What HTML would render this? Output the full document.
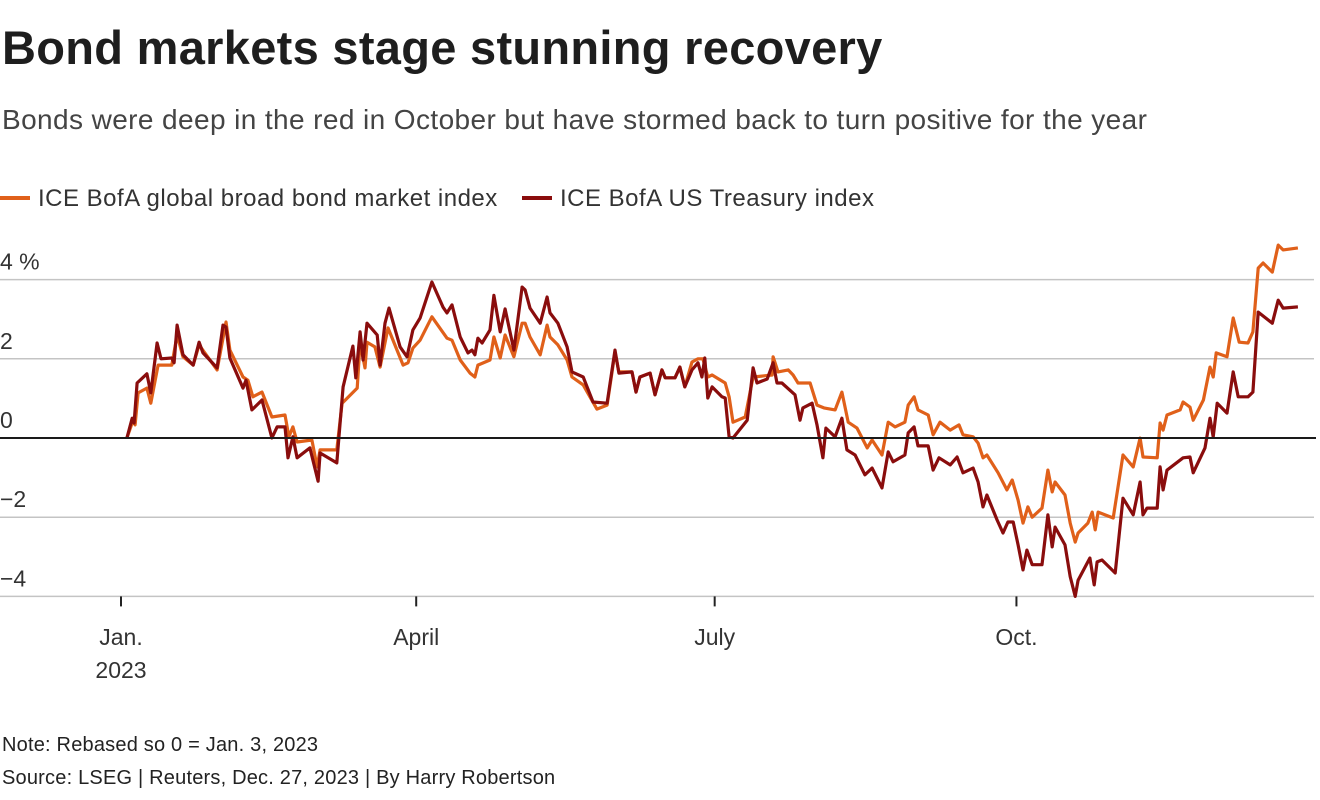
<!DOCTYPE html>
<html><head><meta charset="utf-8">
<style>
body{margin:0;background:#fff;font-family:"Liberation Sans",sans-serif;color:#222;}
.wrap{position:relative;width:1320px;height:800px;overflow:hidden;}
h1{position:absolute;left:2px;top:20px;margin:0;font-size:47px;font-weight:bold;color:#1e1e1e;letter-spacing:0.3px}
.sub{position:absolute;left:2px;top:104px;font-size:28px;color:#444;letter-spacing:0.4px}
.leg{position:absolute;top:185px;font-size:24px;color:#333;letter-spacing:0.5px}
.sw{display:inline-block;width:30px;height:4px;vertical-align:middle;margin-right:8px;position:relative;top:-2px}
.note{position:absolute;left:2px;font-size:20px;color:#222;letter-spacing:0.2px}
</style></head><body>
<div class="wrap">
<h1>Bond markets stage stunning recovery</h1>
<div class="sub">Bonds were deep in the red in October but have stormed back to turn positive for the year</div>
<div class="leg" style="left:0px"><span class="sw" style="background:#e0601a"></span>ICE BofA global broad bond market index</div>
<div class="leg" style="left:522px"><span class="sw" style="background:#8a0d0d"></span>ICE BofA US Treasury index</div>
<svg id="chart" width="1320" height="800" style="position:absolute;left:0;top:0"></svg>
<div class="note" style="top:734px">Note: Rebased so 0 = Jan. 3, 2023</div>
<div class="note" style="top:767px">Source: LSEG | Reuters, Dec. 27, 2023 | By Harry Robertson</div>
</div>
<script>
const yTicks=[4,2,0,-2,-4];
const yTickLabels=["4 %","2","0","\u22122","\u22124"];
const monthDays=[0,90,181,273];
const monthLabels=["Jan.","April","July","Oct."];
const treasuryDays=[1.8,3.4,4.0,4.9,7.9,9.1,11.0,12.2,15.5,16.2,17.1,18.9,22.0,23.8,25.0,29.3,31.1,32.0,33.2,37.2,38.1,39.9,43.0,46.0,47.6,50.0,50.9,52.4,53.7,57.6,60.1,60.7,65.8,67.7,70.7,71.6,72.9,73.8,75.0,78.1,79.0,80.5,81.7,85.1,87.2,89.0,91.2,94.8,98.2,99.4,100.9,103.4,105.8,107.0,107.9,108.8,110.1,112.5,113.7,115.6,117.1,119.8,122.3,123.2,124.7,127.8,129.9,130.8,133.2,136.0,137.5,140.9,143.9,148.2,150.6,151.8,155.8,157.0,158.2,161.3,162.8,164.9,165.9,168.9,170.4,171.9,174.1,175.9,177.1,178.0,178.9,180.2,183.2,184.2,185.4,186.6,190.9,192.7,193.9,197.0,198.8,200.0,201.5,205.5,207.0,207.9,210.7,212.2,214.0,214.9,217.7,219.8,221.3,223.8,226.8,229.0,232.0,233.9,235.4,239.0,240.0,241.8,243.0,246.1,247.6,249.4,252.8,254.9,256.7,259.8,261.3,262.8,264.0,267.1,268.9,270.4,272.0,273.5,275.0,276.2,277.8,280.8,282.6,283.9,284.8,287.8,289.4,290.9,291.8,295.4,296.7,297.6,299.1,303.1,305.5,308.6,310.7,311.6,312.8,315.9,316.8,317.7,318.9,323.8,325.9,326.9,330.5,332.0,333.0,334.2,337.2,339.1,340.6,343.6,345.1,346.7,351.0,352.8,354.3,358.8];
const treasuryValues=[0,0.5,0.38,1.39,1.62,1.14,2.4,2.0,2.02,1.9,2.85,2.1,1.84,2.42,2.15,1.77,2.85,2.8,2.02,1.26,1.46,0.71,0.96,0,0.28,0.28,-0.5,0.03,-0.5,-0.25,-1.09,-0.38,-0.63,1.29,2.32,1.52,2.68,1.97,2.9,2.6,1.84,2.9,3.28,2.3,2.05,2.73,3.03,3.94,3.3,3.16,3.36,2.55,2.15,2.22,2.1,2.52,2.4,2.73,3.6,2.68,3.26,2.22,3.81,3.74,3.28,2.9,3.56,3.16,2.9,2.3,1.67,1.54,0.91,0.88,2.22,1.64,1.67,1.16,1.54,1.64,1.09,1.72,1.52,1.52,1.79,1.29,1.72,1.9,1.54,2.02,1.01,1.29,1.04,1.01,0.03,0,0.45,1.77,1.39,1.49,1.9,1.39,1.39,1.09,0.45,0.76,0.88,0.33,-0.5,0.25,0.03,0.5,-0.3,-0.43,-0.93,-0.76,-1.26,-0.35,-0.6,-0.43,0.13,0.28,-0.2,-0.2,-0.81,-0.5,-0.68,-0.48,-0.88,-0.76,-1.11,-1.74,-1.44,-2.07,-2.4,-2.12,-2.12,-2.7,-3.33,-2.83,-3.2,-3.2,-1.94,-2.75,-2.25,-2.7,-3.5,-4.0,-3.59,-3.03,-3.71,-3.13,-3.08,-3.41,-1.52,-1.94,-1.11,-1.94,-1.77,-1.77,-0.73,-1.31,-0.81,-0.5,-0.48,-0.88,-0.25,0.5,0.03,0.88,0.63,1.67,1.04,1.04,1.16,3.18,2.9,3.48,3.28,3.31];
const globalDays=[1.8,3.7,4.3,5.2,7.9,9.1,11.3,15.5,17.1,18.9,22.0,23.8,29.3,32.0,33.2,37.2,38.7,40.2,43.0,46.0,50.0,51.2,52.4,53.7,58.2,59.8,60.7,65.8,67.4,72.0,72.9,74.4,75.0,77.4,79.0,81.4,86.0,87.5,89.0,91.2,94.8,99.4,100.9,103.4,106.4,107.9,108.8,112.5,113.7,115.6,117.1,119.8,122.3,123.2,124.7,127.8,129.9,130.8,133.2,136.0,137.5,140.9,145.1,148.2,150.6,151.8,155.8,157.0,158.2,161.3,162.8,164.9,165.9,168.9,170.4,171.9,174.1,175.9,177.4,178.9,180.2,184.2,185.4,186.6,190.3,192.7,198.5,198.8,200.3,203.4,204.9,206.4,210.1,212.2,214.3,217.7,219.8,221.7,224.4,227.5,229.0,232.0,233.9,236.0,239.0,240.0,241.8,243.0,246.1,247.6,249.7,252.8,255.5,256.7,259.8,261.3,262.8,264.0,267.4,270.1,271.7,273.5,275.0,276.5,277.8,280.8,282.6,283.9,284.8,287.8,289.4,290.9,291.8,294.8,296.1,297.0,297.9,302.5,305.5,308.6,310.7,311.6,315.9,316.8,317.7,318.9,322.9,323.8,325.9,326.9,330.0,332.0,333.0,333.9,337.2,339.1,340.9,343.6,345.1,346.7,348.2,351.0,352.8,354.3,358.8];
const globalValues=[0,0.45,0.33,1.14,1.26,0.88,1.84,1.84,2.6,2.05,1.84,2.35,1.72,2.93,2.22,1.54,1.46,1.04,1.16,0.53,0.58,0.03,0.28,-0.1,-0.05,-0.73,-0.3,-0.3,0.88,1.26,2.42,1.77,2.42,2.3,1.79,2.78,1.84,1.9,2.27,2.47,3.06,2.52,2.47,1.97,1.64,1.54,1.84,1.97,2.55,2.02,2.6,2.05,2.9,2.9,2.55,2.1,2.85,2.55,2.35,1.97,1.54,1.34,0.73,0.83,2.17,1.67,1.67,1.16,1.54,1.64,1.09,1.72,1.52,1.52,1.79,1.29,1.92,2.0,2.0,1.54,1.59,1.39,1.04,0.4,0.53,1.54,1.59,2.05,1.67,1.72,1.59,1.39,1.39,0.83,0.76,0.71,1.16,0.4,0.25,-0.25,-0.05,-0.43,0.4,0.28,0.4,0.83,1.04,0.71,0.58,0.08,0.4,0.2,0.33,0.08,0.03,-0.13,-0.5,-0.43,-0.88,-1.31,-1.06,-1.57,-2.15,-1.74,-2.0,-1.77,-0.81,-1.36,-1.11,-1.44,-2.15,-2.63,-2.4,-2.15,-1.87,-2.32,-1.87,-2.02,-0.43,-0.73,0,-0.48,-0.5,0.38,0.2,0.58,0.71,0.91,0.78,0.45,0.96,1.79,1.54,2.15,2.05,3.03,2.42,2.4,2.68,4.29,4.42,4.19,4.87,4.75,4.8];

const NS="http://www.w3.org/2000/svg";
const svg=document.getElementById('chart');
const x=d=>121+3.28*d;
const y=v=>438-39.6*v;
function mk(tag,attrs){const e=document.createElementNS(NS,tag);for(const k in attrs)e.setAttribute(k,attrs[k]);svg.appendChild(e);return e;}
yTicks.forEach((t,i)=>{
  if(t!==0){const g=mk('line',{x1:0,x2:1314,y1:y(t),y2:y(t),stroke:'#c4c4c4','stroke-width':1.5});
  
  }
  const tx=mk('text',{x:0,y:y(t)-10,'font-size':23,fill:'#333','font-family':'Liberation Sans, sans-serif'});
  tx.textContent=yTickLabels[i];
  
  
});
monthDays.forEach((d,i)=>{
  const tk=mk('line',{x1:x(d),x2:x(d),y1:y(-4),y2:y(-4)+10,stroke:'#222','stroke-width':2});
  
  
  const tx=mk('text',{x:x(d),y:645,'font-size':23,fill:'#333','text-anchor':'middle','font-family':'Liberation Sans, sans-serif'});
  tx.textContent=monthLabels[i];
  
  
});
const yr=mk('text',{x:x(0),y:678,'font-size':23,fill:'#333','text-anchor':'middle','font-family':'Liberation Sans, sans-serif'});
yr.textContent='2023';


function line(days,vals,color,name){
  const p=days.map((d,i)=>x(d).toFixed(1)+','+y(vals[i]).toFixed(1)).join(' ');
  const l=mk('polyline',{points:p,fill:'none',stroke:color,'stroke-width':3.2,'stroke-linejoin':'round'});
  
  
}
line(globalDays,globalValues,'#e0601a','global-bond-line');
line(treasuryDays,treasuryValues,'#8a0d0d','treasury-line');
const z=mk('line',{x1:0,x2:1316,y1:y(0),y2:y(0),stroke:'#1a1a1a','stroke-width':2});


</script>
</body></html>
